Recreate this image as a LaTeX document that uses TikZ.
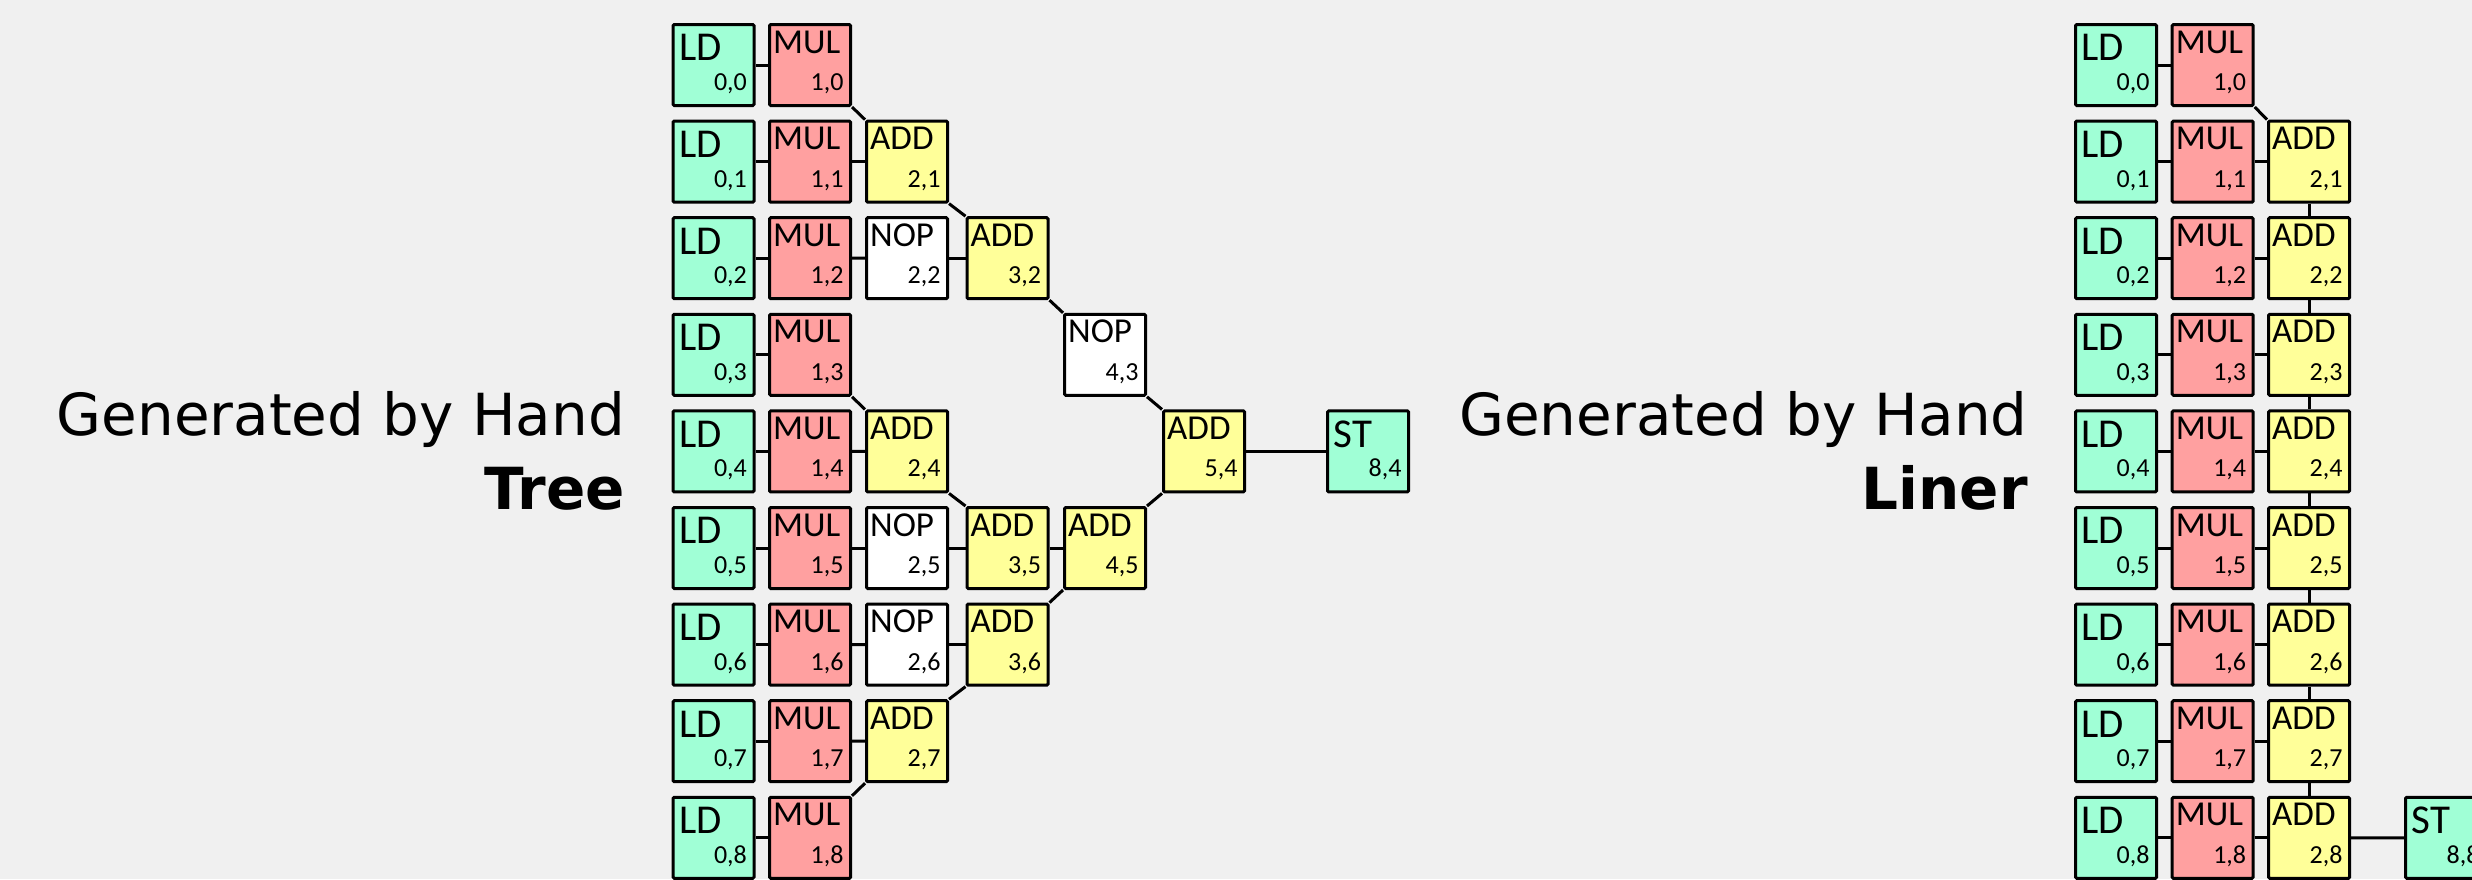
\documentclass[tikz,border=0pt]{standalone}
\usepackage{fontspec}
\setmainfont{Carlito}
\newfontfamily\headfont{DejaVu Sans}

\definecolor{bgcol}{RGB}{240,240,240}
\definecolor{ldcol}{RGB}{160,255,214}
\definecolor{mulcol}{RGB}{255,160,160}
\definecolor{addcol}{RGB}{255,255,153}
\definecolor{nopcol}{RGB}{255,255,255}

\tikzset{
  cellbox/.style={rectangle, draw=black, line width=1.5pt, minimum size=40.5pt,
                  inner sep=0pt, rounded corners=0.6pt},
  ldcell/.style={cellbox, fill=ldcol},
  mulcell/.style={cellbox, fill=mulcol},
  addcell/.style={cellbox, fill=addcol},
  nopcell/.style={cellbox, fill=nopcol},
  optext/.style={anchor=base west, inner sep=0pt,
                 font=\fontsize{17.5}{20}\selectfont, xshift=2.4pt, yshift=-15pt},
  memtext/.style={anchor=base west, inner sep=0pt,
                  font=\fontsize{20.5}{24}\selectfont, xshift=3.6pt, yshift=-18.9pt},
  numtext/.style={anchor=base east, inner sep=0pt,
                  font=\fontsize{13}{15}\selectfont, xshift=-4.1pt, yshift=8.3pt},
  link/.style={draw=black, line width=1.5pt},
  heading/.style={anchor=base east, inner sep=0pt,
                  font=\headfont\fontsize{29}{34}\selectfont},
  headingbold/.style={heading, font=\headfont\bfseries\fontsize{29}{34}\selectfont},
}

% #1 name, #2 x, #3 y, #4 cell style, #5 operation, #6 index, #7 operation text style
\newcommand\cell[7]{%
  \node[#4] (#1) at (#2,#3) {};
  \node[#7] (#1-op) at (#1.north west) {#5};
  \node[numtext] (#1-ix) at (#1.south east) {#6};
}

\begin{document}
\begin{tikzpicture}[x=0.5pt,y=-0.5pt]
  \useasboundingbox (0,0) rectangle (2472,879);
  \fill[bgcol] (0,0) rectangle (2472,879);

  % ---------------- headings ----------------
  \node[heading]     (h1a) at (625.5,435) {Generated by Hand};
  \node[headingbold] (h1b) at (625.5,509) {Tree};
  \node[heading]     (h2a) at (2028,435)  {Generated by Hand};
  \node[headingbold] (h2b) at (2028,509)  {Liner};

  % ---------------- tree reduction ----------------
  \foreach \r in {0,...,8} {
    \cell{tld\r}{713.5}{65+96.6*\r}{ldcell}{LD}{0,\r}{memtext}
    \cell{tmul\r}{810}{65+96.6*\r}{mulcell}{MUL}{1,\r}{optext}
    \draw[link] (tld\r.east) -- (tmul\r.west);
  }
  \cell{tadd21}{907}{161.6}{addcell}{ADD}{2,1}{optext}
  \cell{tnop22}{907}{258.2}{nopcell}{NOP}{2,2}{optext}
  \cell{tadd32}{1007.5}{258.2}{addcell}{ADD}{3,2}{optext}
  \cell{tnop43}{1105}{354.8}{nopcell}{NOP}{4,3}{optext}
  \cell{tadd24}{907}{451.4}{addcell}{ADD}{2,4}{optext}
  \cell{tadd54}{1204}{451.4}{addcell}{ADD}{5,4}{optext}
  \cell{tst84}{1368}{451.4}{ldcell}{ST}{8,4}{memtext}
  \cell{tnop25}{907}{548}{nopcell}{NOP}{2,5}{optext}
  \cell{tadd35}{1007.5}{548}{addcell}{ADD}{3,5}{optext}
  \cell{tadd45}{1105}{548}{addcell}{ADD}{4,5}{optext}
  \cell{tnop26}{907}{644.6}{nopcell}{NOP}{2,6}{optext}
  \cell{tadd36}{1007.5}{644.6}{addcell}{ADD}{3,6}{optext}
  \cell{tadd27}{907}{741.2}{addcell}{ADD}{2,7}{optext}

  % row links
  \draw[link] (tmul1.east) -- (tadd21.west);
  \draw[link] (tmul2.east) -- (tnop22.west);
  \draw[link] (tnop22.east) -- (tadd32.west);
  \draw[link] (tmul4.east) -- (tadd24.west);
  \draw[link] (tadd54.east) -- (tst84.west);
  \draw[link] (tmul5.east) -- (tnop25.west);
  \draw[link] (tnop25.east) -- (tadd35.west);
  \draw[link] (tadd35.east) -- (tadd45.west);
  \draw[link] (tmul6.east) -- (tnop26.west);
  \draw[link] (tnop26.east) -- (tadd36.west);
  \draw[link] (tmul7.east) -- (tadd27.west);
  % diagonal links
  \draw[link] (tmul0.south east) -- (tadd21.north west);
  \draw[link] (tadd21.south east) -- (tadd32.north west);
  \draw[link] (tadd32.south east) -- (tnop43.north west);
  \draw[link] (tnop43.south east) -- (tadd54.north west);
  \draw[link] (tmul3.south east) -- (tadd24.north west);
  \draw[link] (tadd24.south east) -- (tadd35.north west);
  \draw[link] (tadd45.north east) -- (tadd54.south west);
  \draw[link] (tadd36.north east) -- (tadd45.south west);
  \draw[link] (tadd27.north east) -- (tadd36.south west);
  \draw[link] (tmul8.north east) -- (tadd27.south west);

  % ---------------- linear reduction ----------------
  \foreach \r in {0,...,8} {
    \cell{lld\r}{2116}{65+96.6*\r}{ldcell}{LD}{0,\r}{memtext}
    \cell{lmul\r}{2212.7}{65+96.6*\r}{mulcell}{MUL}{1,\r}{optext}
    \draw[link] (lld\r.east) -- (lmul\r.west);
  }
  \foreach \r in {1,...,8} {
    \cell{ladd\r}{2309}{65+96.6*\r}{addcell}{ADD}{2,\r}{optext}
    \draw[link] (lmul\r.east) -- (ladd\r.west);
  }
  \foreach \r [evaluate=\r as \n using int(\r+1)] in {1,...,7} {
    \draw[link] (ladd\r.south) -- (ladd\n.north);
  }
  \draw[link] (lmul0.south east) -- (ladd1.north west);
  \cell{lst88}{2446}{837.8}{ldcell}{ST}{8,8}{memtext}
  \draw[link] (ladd8.east) -- (lst88.west);
\end{tikzpicture}
\end{document}
